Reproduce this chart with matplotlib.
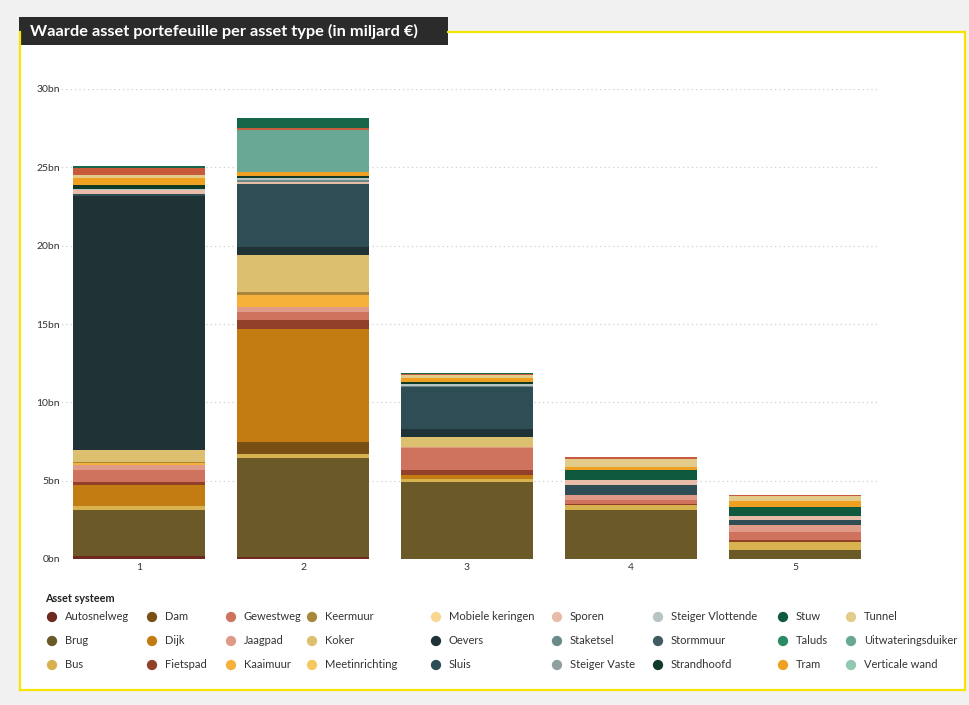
import matplotlib
matplotlib.use("Agg")
import matplotlib.pyplot as plt
from matplotlib.patches import Rectangle
import numpy as np

plt.rcParams['font.family'] = ['Lato', 'DejaVu Sans']

# ---------------- data ----------------
categories = ["1", "2", "3", "4", "5"]
series_names = [
    "Autosnelweg", "Brug", "Bus", "Dam", "Dijk", "Fietspad", "Gewestweg",
    "Jaagpad", "Kaaimuur", "Keermuur", "Koker", "Meetinrichting",
    "Mobiele keringen", "Oevers", "Sluis", "Sporen", "Staketsel",
    "Steiger Vaste", "Steiger Vlottende", "Stormmuur", "Strandhoofd", "Stuw",
    "Taluds", "Tram", "Tunnel", "Uitwateringsduiker", "Verticale wand",
]
autosnelweg = [0.20, 0.15, 0.00, 0.00, 0.00]
brug = [2.95, 6.30, 4.90, 3.10, 0.57]
bus = [0.25, 0.28, 0.21, 0.34, 0.53]
dam = [0.00, 0.72, 0.00, 0.00, 0.00]
dijk = [1.35, 7.25, 0.28, 0.00, 0.00]
fietspad = [0.15, 0.57, 0.26, 0.05, 0.10]
gewestweg = [0.77, 0.49, 1.45, 0.25, 0.53]
jaagpad = [0.30, 0.30, 0.05, 0.32, 0.45]
kaaimuur = [0.17, 0.77, 0.00, 0.00, 0.00]
keermuur = [0.06, 0.19, 0.00, 0.00, 0.00]
koker = [0.75, 2.38, 0.64, 0.00, 0.00]
meetinrichting = [0.00, 0.00, 0.00, 0.00, 0.00]
mobiele_keringen = [0.00, 0.00, 0.00, 0.00, 0.00]
oevers = [16.20, 0.51, 0.51, 0.00, 0.00]
sluis = [0.15, 4.04, 2.65, 0.68, 0.28]
sporen = [0.27, 0.10, 0.00, 0.28, 0.30]
staketsel = [0.00, 0.15, 0.10, 0.00, 0.00]
steiger_vaste = [0.00, 0.00, 0.00, 0.00, 0.00]
steiger_vlottende = [0.05, 0.10, 0.10, 0.00, 0.00]
stormmuur = [0.00, 0.00, 0.00, 0.00, 0.00]
strandhoofd = [0.23, 0.15, 0.12, 0.00, 0.00]
stuw = [0.00, 0.00, 0.00, 0.68, 0.57]
taluds = [0.00, 0.00, 0.00, 0.00, 0.00]
tram = [0.50, 0.25, 0.28, 0.15, 0.38]
tunnel = [0.15, 0.00, 0.20, 0.53, 0.30]
uitwateringsduiker = [0.00, 2.68, 0.00, 0.00, 0.00]
verticale_wand = [0.00, 0.00, 0.00, 0.00, 0.00]
# two further stacked segments on top of the bars (not in the visible legend)
extra_top_red = [0.43, 0.10, 0.08, 0.10, 0.10]
extra_top_green = [0.15, 0.68, 0.05, 0.00, 0.00]

series_values = [
    autosnelweg, brug, bus, dam, dijk, fietspad, gewestweg, jaagpad, kaaimuur,
    keermuur, koker, meetinrichting, mobiele_keringen, oevers, sluis, sporen,
    staketsel, steiger_vaste, steiger_vlottende, stormmuur, strandhoofd, stuw,
    taluds, tram, tunnel, uitwateringsduiker, verticale_wand,
]
colors = [
    "#6e2a1f", "#6b5a28", "#d8b24e", "#7a4f14", "#c27c12", "#93402a",
    "#d0735e", "#e09a88", "#f5b13a", "#a8873a", "#dcc070", "#f5c860",
    "#f8d890", "#1f3236", "#2f4d55", "#e8bca8", "#6a8a88", "#8fa0a0",
    "#b8c4c4", "#3f5a60", "#0f3a28", "#0f5a3e", "#2a8a62", "#f0a020",
    "#e3cc8a", "#6aa896", "#90c8b0",
]
extra_colors = ["#c85a3c", "#16664a"]

yticks = [0, 5, 10, 15, 20, 25, 30]
ytick_labels = ["0bn", "5bn", "10bn", "15bn", "20bn", "25bn", "30bn"]

# ---------------- figure ----------------
W, H = 969, 705
fig = plt.figure(figsize=(W / 100, H / 100), dpi=100)
fig.patch.set_facecolor("#f1f1f1")

bg = fig.add_axes([0, 0, 1, 1], zorder=0)
bg.set_xlim(0, W)
bg.set_ylim(H, 0)
bg.axis("off")

# white panel with yellow border
bg.add_patch(Rectangle((20, 32), 945, 658, facecolor="white", edgecolor="none"))
ycol = "#f7e500"
bg.plot([20, 20], [32, 690], color=ycol, lw=1.6)
bg.plot([20, 965], [690, 690], color=ycol, lw=1.6)
bg.plot([965, 965], [32, 690], color=ycol, lw=1.6)
bg.plot([448, 965], [32, 32], color=ycol, lw=1.6)
# title box
bg.add_patch(Rectangle((19, 17), 429, 28, facecolor="#2b2b2b", edgecolor="none"))
bg.text(30, 31.5, "Waarde asset portefeuille per asset type (in miljard €)",
        color="white", fontsize=11.8, fontweight="bold", va="center", ha="left")

# ---------------- chart ----------------
x0, x1 = 57, 877
yb, yt = 559, 89
ax = fig.add_axes([x0 / W, 1 - yb / H, (x1 - x0) / W, (yb - yt) / H], zorder=2)
ax.patch.set_alpha(0)
x = np.arange(len(categories))
bottom = np.zeros(len(categories))
all_vals = series_values + [extra_top_red, extra_top_green]
all_cols = colors + extra_colors
for vals, col in zip(all_vals, all_cols):
    v = np.array(vals, dtype=float)
    ax.bar(x, v, bottom=bottom, width=0.81, color=col, edgecolor="none", zorder=3)
    bottom += v

ax.set_xlim(-0.5, len(categories) - 0.5)
ax.set_ylim(0, 30)
ax.set_yticks(yticks)
ax.set_yticklabels(ytick_labels)
ax.set_xticks(x)
ax.set_xticklabels(categories)
for s in ax.spines.values():
    s.set_visible(False)
ax.tick_params(axis="both", length=0, labelsize=7.5, colors="#333333")
ax.tick_params(axis="y", pad=-2)
ax.tick_params(axis="x", pad=3)
ax.yaxis.grid(True, color="#cfcfcf", linestyle=(0, (1, 2.5)), lw=0.9, zorder=0)
ax.set_axisbelow(True)

# ---------------- legend ----------------
bg.text(45, 599, "Asset systeem", fontsize=7.8, fontweight="bold",
        color="#222222", va="center", ha="left", zorder=5)
col_x = [52, 152, 231, 312, 436, 557, 658, 783, 851]
row_y = [617, 641, 665]
for i, (name, col) in enumerate(zip(series_names, colors)):
    c, r = divmod(i, 3)
    bg.scatter([col_x[c]], [row_y[r]], s=55, color=col, edgecolors="none", zorder=5)
    bg.text(col_x[c] + 13, row_y[r], name, fontsize=8, color="#333333",
            va="center", ha="left", zorder=5)

fig.savefig("out.png", dpi=100, facecolor=fig.get_facecolor())
